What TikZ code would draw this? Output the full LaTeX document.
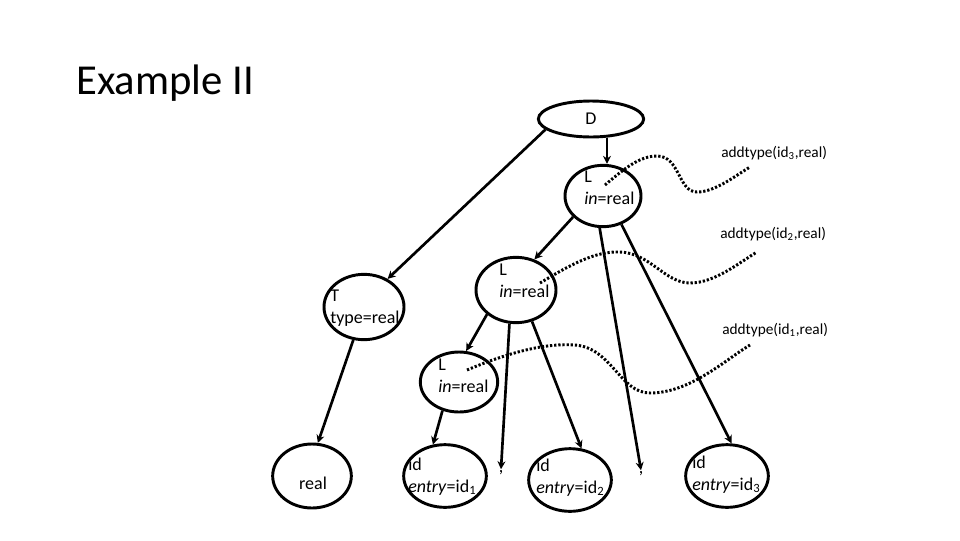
\documentclass[tikz,border=0pt]{standalone}
\usepackage{fontspec}
\setmainfont{Carlito}
\usetikzlibrary{shapes.geometric,arrows.meta}

\begin{document}
\begin{tikzpicture}[x=0.75pt, y=-0.75pt,
  main/.style = {draw, ellipse, line width=2.2pt, inner sep=0pt, minimum width=62pt, minimum height=47pt},
  txt/.style = {anchor=north west, align=left, inner sep=0pt, font=\fontsize{13.5}{16}\selectfont},
  arr/.style = {line width=2pt, -{Stealth[length=6pt,width=6pt]}},
  dots/.style = {line width=2.2pt, dash pattern=on 1.7pt off 1.4pt},
  note/.style = {anchor=west, inner sep=0pt, font=\fontsize{11.5}{14}\selectfont}]
  \useasboundingbox (0,0) rectangle (960,540);

  \node[anchor=base west, inner sep=0pt, font=\fontsize{32}{38}\selectfont] (title) at (76,94) {Example II};

  % tree nodes
  \node[main, minimum width=79pt, minimum height=27pt, font=\fontsize{13.5}{16}\selectfont] (D) at (591,119) {D};
  \node[main, minimum width=57pt, minimum height=46pt] (L1) at (603,196) {};
  \node[main, minimum width=60pt, minimum height=49pt] (L2) at (516,290) {};
  \node[main, minimum width=60pt, minimum height=49pt] (T) at (364,307) {};
  \node[main, minimum width=58pt, minimum height=45pt] (L3) at (459,382) {};
  \node[main, minimum width=59pt, minimum height=48pt] (real) at (312,476) {};
  \node[main] (id1) at (445,476) {};
  \node[main] (id2) at (570,480) {};
  \node[main] (id3) at (727,476) {};

  \node[txt] (L1t) at (584,171) {L\\\textit{in}=real};
  \node[txt] (L2t) at (499,264) {L\\\textit{in}=real};
  \node[txt] (Tt) at (330,290) {T\\type=real};
  \node[txt] (L3t) at (438,359) {L\\\textit{in}=real};
  \node[txt, anchor=center] (realt) at (313,483) {real};
  \node[txt] (id1t) at (408,458) {id\\\textit{entry}=id\textsubscript{1}};
  \node[txt] (id2t) at (536,459) {id\\\textit{entry}=id\textsubscript{2}};
  \node[txt] (id3t) at (692,456) {id\\\textit{entry}=id\textsubscript{3}};

  \node[txt, anchor=center, inner sep=1pt] (c1) at (501,473) {,};
  \node[txt, anchor=center, inner sep=1pt] (c2) at (641,474) {,};

  % edges
  \draw[arr] (D.193) -- (T.50);
  \draw[arr] ([xshift=3pt]L1.north |- D.south) -- ([xshift=3pt]L1.north);
  \draw[arr] (L1.215) -- (L2.59);
  \draw[arr] (L1.264) -- (c2.north);
  \draw[arr] (L1.303) -- (id3.82);
  \draw[arr] (L2.220) -- (L3.77);
  \draw[arr] (L2.259) -- (c1.north);
  \draw[arr] (L2.297) -- (id2.70);
  \draw[arr] (L3.240) -- (id1.111);
  \draw[arr] (T.252) -- (real.80);

  % semantic actions
  \node[note] (a3) at (721,153) {addtype(id\textsubscript{3},real)};
  \node[note] (a2) at (720,234) {addtype(id\textsubscript{2},real)};
  \node[note] (a1) at (722,330) {addtype(id\textsubscript{1},real)};

  \coordinate (s3) at (605,185);
  \coordinate (e3) at (750,167);
  \coordinate (s2) at (540,283);
  \coordinate (e2) at (757,252);
  \coordinate (s1) at (467,370);
  \coordinate (e1) at (750,345);

  \draw[dots] (s3) .. controls (625,168) and (640,156) .. (657,156)
    .. controls (680,156) and (678,192) .. (697,192)
    .. controls (715,192) and (735,176) .. (e3);
  \draw[dots] (s2) .. controls (570,265) and (595,251) .. (620,252)
    .. controls (650,253) and (665,283) .. (690,283)
    .. controls (715,283) and (740,262) .. (e2);
  \draw[dots] (s1) .. controls (510,352) and (545,343) .. (575,345)
    .. controls (612,348) and (620,393) .. (650,393)
    .. controls (690,393) and (725,360) .. (e1);
\end{tikzpicture}
\end{document}
